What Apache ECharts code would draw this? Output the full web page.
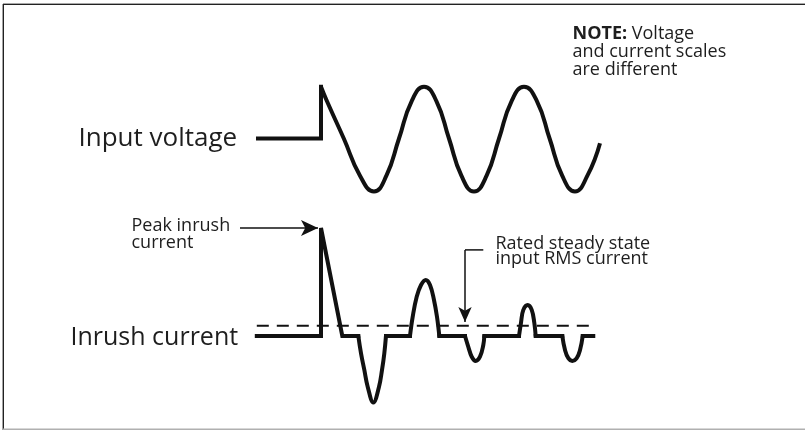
<!DOCTYPE html>
<html>
<head>
<meta charset="utf-8">
<script src="https://cdn.jsdelivr.net/npm/echarts@6/dist/echarts.min.js"></script>
<style>
  html, body { margin: 0; padding: 0; background: #ffffff; }
  #chart { width: 805px; height: 430px; }
</style>
</head>
<body>
<div id="chart"></div>
<script>
// Time in ms (0 = switch-on), voltage in V, current in A (schematic values)
const voltageStep = [[-10.5, 0], [0, 0], [0, 167]];
const voltageWave = [
  [0, 167], [1.0, 120], [3.8, 0], [6.5, -120], [8.83, -171],
  [10.9, -120], [13.0, 0], [15.1, 120], [17.17, 167],
  [19.25, 120], [21.33, 0], [23.4, -120], [25.5, -171],
  [27.6, -120], [29.67, 0], [31.75, 120], [33.83, 167],
  [36.0, 120], [38.1, 0], [40.2, -120], [42.33, -171],
  [44.4, -120], [46.5, -15]
];
// straight parts of the inrush current ('-' = gap where a hump is drawn)
const currentBase = [
  [-10.7, 0], [0, 0], [0, 36], [3.55, 0], [6.22, 0], '-',
  [10.83, 0], [14.83, 0], '-',
  [19.72, 0], [24.0, 0], '-',
  [27.22, 0], [33.0, 0], '-',
  [35.78, 0], [40.22, 0], '-',
  [43.62, 0], [45.38, 0]
];
// curved parts of the inrush current
const currentHumps = [
  [6.22, 0], [6.67, -5.8], [7.22, -11.3], [7.78, -16.9], [8.72, -22.2],
  [9.67, -16.9], [10.17, -11.3], [10.55, -5.8], [10.83, 0], '-',
  [14.83, 0], [15.28, 6.4], [15.95, 13.1], [16.67, 17], [17.45, 18.7],
  [18.17, 17], [18.83, 12], [19.33, 6.4], [19.72, 0], '-',
  [24.0, 0], [24.55, -3.6], [25.12, -6.9], [25.78, -8.3],
  [26.5, -6.9], [27.05, -3.0], [27.22, 0], '-',
  [33.0, 0], [33.33, 4.4], [33.72, 8.7], [34.45, 10.3],
  [35.12, 8.7], [35.55, 4.4], [35.78, 0], '-',
  [40.22, 0], [40.67, -4.7], [41.22, -7.4], [41.88, -8.3],
  [42.62, -7.4], [43.17, -4.7], [43.62, 0]
];
const rmsCurrent = [[-10.7, 3.4], [45.67, 3.4]];
const peakArrow = [[-13.5, 36], [-0.5, 36]];
const rmsArrowElbow = [[27.05, 28.7], [24.0, 28.7]];
const rmsArrow = [[24.0, 28.7], [24.0, 4.7]];

const labelVoltage = 'Input voltage';
const labelCurrent = 'Inrush current';
const notePeak = 'Peak inrush\ncurrent';
const noteRms = 'Rated steady state\ninput RMS current';
const noteScale = ['NOTE:', ' Voltage', 'and current scales', 'are different'];

const INK = '#111111';
const TXT = '#1e1e1e';
const FONT = '"Open Sans", "Noto Sans", sans-serif';

const chart = echarts.init(document.getElementById('chart'), null, { renderer: 'canvas' });

const xAxisBase = { type: 'value', min: -53.5, max: 80.6667, show: false };

chart.setOption({
  animation: false,
  backgroundColor: '#ffffff',
  grid: [
    { left: 0, right: 0, top: 76.5, height: 124 },
    { left: 0, right: 0, top: 216, height: 210 }
  ],
  xAxis: [
    Object.assign({ gridIndex: 0 }, xAxisBase),
    Object.assign({ gridIndex: 1 }, xAxisBase)
  ],
  yAxis: [
    { type: 'value', gridIndex: 0, min: -200, max: 200, show: false },
    { type: 'value', gridIndex: 1, min: -30, max: 40, show: false }
  ],
  series: [
    {
      name: 'Voltage step', type: 'line', xAxisIndex: 0, yAxisIndex: 0,
      data: voltageStep, showSymbol: false, symbol: 'none', clip: false,
      lineStyle: { color: INK, width: 4, cap: 'square', join: 'miter' }
    },
    {
      name: 'Input voltage', type: 'line', xAxisIndex: 0, yAxisIndex: 0,
      data: voltageWave, smooth: 0.5, showSymbol: false, symbol: 'none', clip: false,
      lineStyle: { color: INK, width: 4, cap: 'butt', join: 'round' }
    },
    {
      name: 'Rated RMS', type: 'line', xAxisIndex: 1, yAxisIndex: 1,
      data: rmsCurrent, showSymbol: false, symbol: 'none', clip: false,
      lineStyle: { color: INK, width: 2, type: [12, 8] }
    },
    {
      name: 'Inrush current', type: 'line', xAxisIndex: 1, yAxisIndex: 1,
      data: currentBase, connectNulls: false, showSymbol: false, symbol: 'none', clip: false,
      lineStyle: { color: INK, width: 4, cap: 'square', join: 'miter', miterLimit: 10 }
    },
    {
      name: 'Inrush current humps', type: 'line', xAxisIndex: 1, yAxisIndex: 1,
      data: currentHumps, connectNulls: false, smooth: 0.4, showSymbol: false, symbol: 'none', clip: false,
      lineStyle: { color: INK, width: 4, cap: 'round', join: 'round' }
    },
    {
      name: 'Arrows', type: 'line', xAxisIndex: 1, yAxisIndex: 1,
      data: rmsArrowElbow, showSymbol: false, symbol: 'none', clip: false,
      lineStyle: { color: INK, width: 1.5 },
      markLine: {
        silent: true,
        symbol: ['none', 'arrow'],
        label: { show: false },
        lineStyle: { color: INK, width: 1.5, type: 'solid' },
        emphasis: { disabled: true },
        data: [
          [{ coord: peakArrow[0], symbolSize: [12, 17] }, { coord: peakArrow[1], symbolSize: [12, 17] }],
          [{ coord: rmsArrow[0], symbolSize: [10, 15] }, { coord: rmsArrow[1], symbolSize: [10, 15] }]
        ]
      }
    }
  ],
  graphic: [
    { type: 'line', shape: { x1: 3, y1: 3.5, x2: 805, y2: 3.5 }, style: { stroke: '#a8a8a8', lineWidth: 1 }, silent: true },
    { type: 'line', shape: { x1: 3, y1: 4.5, x2: 805, y2: 4.5 }, style: { stroke: '#222222', lineWidth: 1.2 }, silent: true },
    { type: 'line', shape: { x1: 3.3, y1: 4, x2: 3.3, y2: 430 }, style: { stroke: '#222222', lineWidth: 1.4 }, silent: true },
    { type: 'line', shape: { x1: 3, y1: 429.3, x2: 805, y2: 429.3 }, style: { stroke: '#b0b0b0', lineWidth: 1.4 }, silent: true },
    {
      type: 'text', silent: true,
      style: { text: labelVoltage, x: 78.5, y: 138.6, fill: TXT, font: '26px ' + FONT, verticalAlign: 'middle' }
    },
    {
      type: 'text', silent: true,
      style: { text: labelCurrent, x: 70.5, y: 337.6, fill: TXT, font: '25px ' + FONT, verticalAlign: 'middle' }
    },
    {
      type: 'text', silent: true,
      style: { text: notePeak, x: 131.5, y: 216.8, fill: TXT, font: '18px ' + FONT, lineHeight: 17.6, verticalAlign: 'top' }
    },
    {
      type: 'text', silent: true,
      style: { text: noteRms, x: 495.5, y: 237, fill: TXT, font: '18px ' + FONT, lineHeight: 14.5, verticalAlign: 'top' }
    },
    {
      type: 'text', silent: true,
      style: {
        text: '{b|' + noteScale[0] + '}{n|' + noteScale[1] + '}\n{n|' + noteScale[2] + '}\n{n|' + noteScale[3] + '}',
        x: 572.5, y: 25.2, verticalAlign: 'top', fill: TXT,
        rich: {
          b: { fontFamily: FONT, fontSize: 18, fontWeight: 'bold', lineHeight: 18, fill: TXT },
          n: { fontFamily: FONT, fontSize: 18, lineHeight: 18, fill: TXT }
        }
      }
    }
  ]
});
</script>
</body>
</html>
